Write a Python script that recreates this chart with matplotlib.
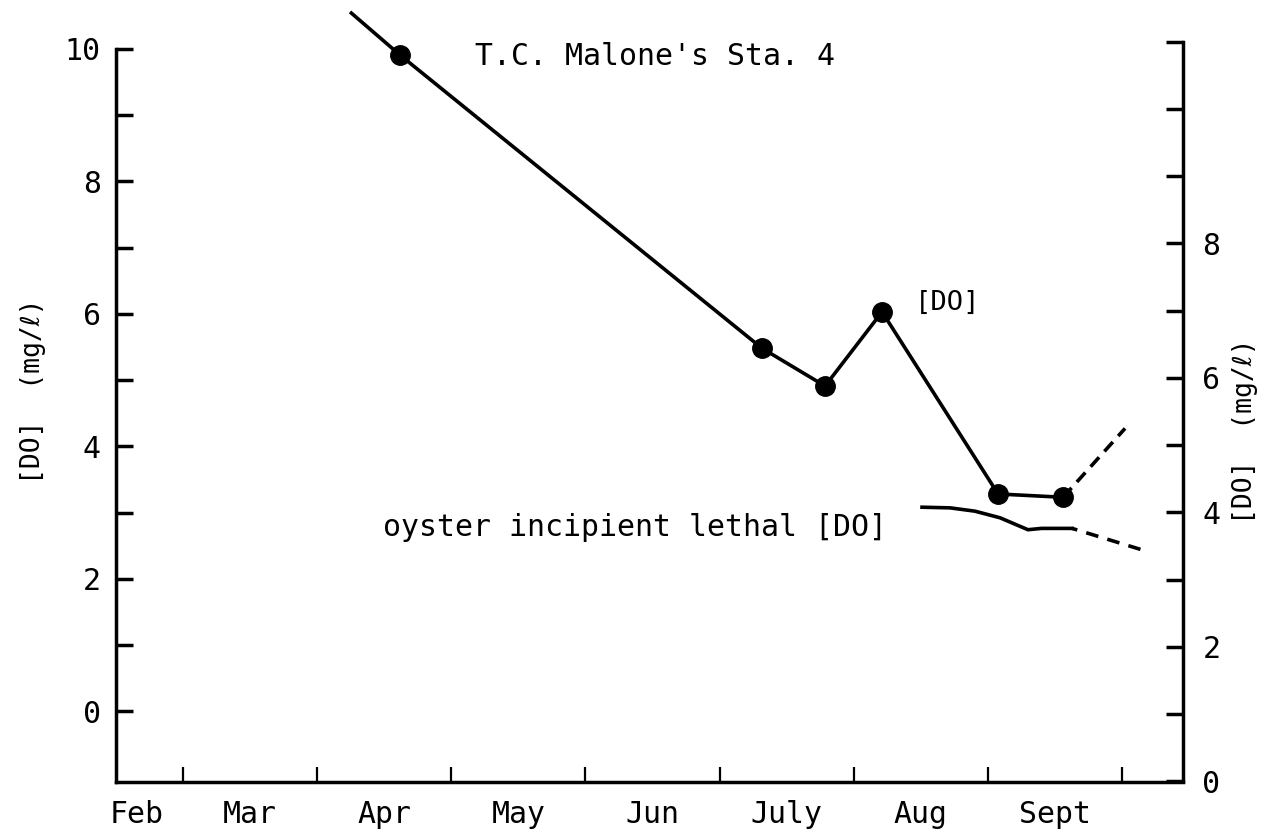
import numpy as np
import matplotlib
matplotlib.use("Agg")
import matplotlib.pyplot as plt
from matplotlib.ticker import MultipleLocator

plt.rcParams['font.family'] = ['DejaVu Sans Mono', 'DejaVu Sans']

# x axis unit = months since Feb 1 (tick marks sit on month boundaries)
months = ["Feb", "Mar", "Apr", "May", "Jun", "July", "Aug", "Sept"]
month_edges = [1, 2, 3, 4, 5, 6, 7, 8]

# T.C. Malone's Sta. 4 dissolved oxygen (mg/l), left axis
sta_x = [2.245, 2.617, 5.317, 5.787, 6.212, 7.077, 7.562]
sta_y = [10.56, 9.91, 5.48, 4.91, 6.03, 3.28, 3.23]
sta_ext_x = [7.562, 8.024]
sta_ext_y = [3.23, 4.27]

# oyster incipient lethal [DO]
lethal_x = [6.51, 6.72, 6.905, 7.092, 7.30, 7.40, 7.629]
lethal_y = [3.08, 3.07, 3.02, 2.92, 2.74, 2.76, 2.76]
lethal_ext_x = [7.629, 8.16]
lethal_ext_y = [2.76, 2.43]

left_major = [0, 2, 4, 6, 8, 10]
left_minor = [1, 3, 5, 7, 9]
right_major = [0, 2, 4, 6, 8]

W, H = 1271, 835
fig = plt.figure(figsize=(W / 100, H / 100), dpi=100)
ax = fig.add_axes([116 / W, 1 - 782 / H, (1183 - 116) / W, 782 / H])

lw = 2.6
ax.plot(sta_x, sta_y, color="black", lw=lw, marker="o", ms=14,
        markevery=list(range(1, len(sta_x))), solid_capstyle="butt")
ax.plot(sta_ext_x, sta_ext_y, color="black", lw=lw, ls=(0, (3.5, 2.2)))
ax.plot(lethal_x, lethal_y, color="black", lw=lw)
ax.plot(lethal_ext_x, lethal_ext_y, color="black", lw=lw, ls=(2, (3.5, 2.6)))

ax.set_xlim(0.5, 8.456)
ax.set_ylim(-1.07, 10.74)

ax.spines["top"].set_visible(False)
ax.spines["right"].set_visible(False)
ax.spines["left"].set_bounds(-1.07, 10)
for s in ("left", "bottom"):
    ax.spines[s].set_linewidth(2.5)

# x ticks: boundaries as tick marks, month names centred between them
ax.set_xticks(month_edges)
ax.set_xticklabels([])
label_pos = [max(e - 0.5, 0.656) for e in month_edges]
ax.set_xticks(label_pos, minor=True)
ax.set_xticklabels(months, minor=True)
ax.tick_params(axis="x", which="major", direction="in", length=11, width=1.6)
ax.tick_params(axis="x", which="minor", length=0, pad=13, labelsize=21.5)

ax.set_yticks(left_major)
ax.set_yticks(left_minor, minor=True)
ax.tick_params(axis="y", which="both", direction="in", length=12, width=2.5,
               pad=11, labelsize=21.5)

ax.set_ylabel("[DO]  (mg/\u2113)", fontsize=19)
ax.yaxis.set_label_coords(-0.0656, 0.5)

# right axis
ax2 = ax.twinx()
ax2.set_ylim(-0.01, 11.62)
for s in ("top", "left", "bottom"):
    ax2.spines[s].set_visible(False)
ax2.spines["right"].set_bounds(0, 11)
ax2.spines["right"].set_linewidth(2.5)
ax2.set_yticks(right_major)
ax2.yaxis.set_minor_locator(MultipleLocator(1))
ax2.tick_params(axis="y", which="both", direction="in", length=12, width=2.5,
                pad=14, labelsize=21.5)
ax2.set_ylabel("[DO]  (mg/\u2113)", fontsize=19, rotation=90)
ax2.yaxis.set_label_coords(1.046, 0.449)

ax.text(3.177, 9.88, "T.C. Malone's Sta. 4", fontsize=21.5, va="center", ha="left")
ax.text(2.49, 2.78, "oyster incipient lethal [DO]", fontsize=21.5, va="center", ha="left")
ax.text(6.458, 6.16, "[DO]", fontsize=19.5, va="center", ha="left")

fig.savefig("out.png", dpi=100, facecolor="white")
